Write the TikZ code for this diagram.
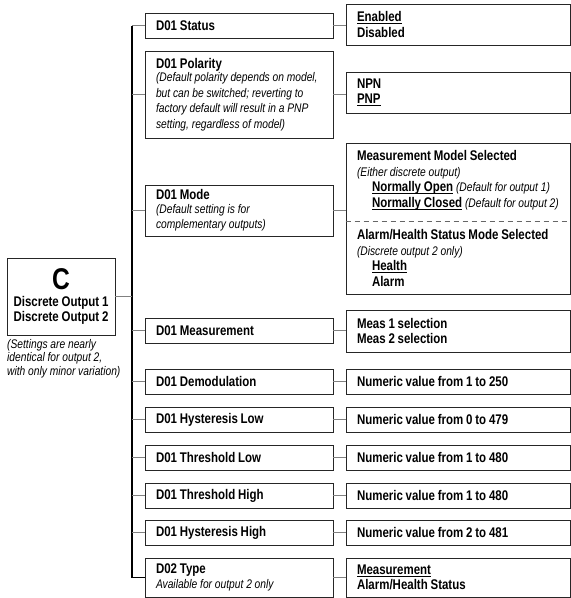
\documentclass[tikz,border=0pt]{standalone}
\usepackage{fontspec}
\setmainfont{Liberation Sans}[FakeStretch=0.82]
\usetikzlibrary{arrows.meta}

\newcommand{\hdfont}{\fontsize{14}{15.5}\selectfont\bfseries}
\newcommand{\ntfont}{\mdseries\itshape\fontsize{12.5}{15.5}\selectfont}
\newcommand{\nt}[1]{{\ntfont\spaceskip 2.8pt plus 1pt\relax #1}}
\newcommand{\ind}{\hspace*{15pt}}
\newcommand{\ulin}[1]{\leavevmode{\setbox0\hbox{#1}\rlap{\vrule height -1.6pt depth 2.6pt width \wd0}\box0}}

\begin{document}
\begin{tikzpicture}[x=1pt,y=-1pt,
  setting/.style={draw=black!85, line width=0.9pt, minimum width=188pt, text width=166pt,
    inner xsep=11pt, inner ysep=0pt, align=left, font=\hdfont,
    execute at begin node={\spaceskip 2.8pt plus 1pt\relax}},
  choice/.style={setting, minimum width=224pt, text width=202pt},
  link/.style={draw=black!50, line width=1.1pt},
  bus/.style={line width=2.8pt}]
\useasboundingbox (0,0) rectangle (571,598);

% output being set up
\node[draw=black!85, line width=0.9pt, minimum width=108pt, minimum height=77pt, inner sep=0pt,
  align=center, font=\hdfont, execute at begin node={\spaceskip 2.8pt plus 1pt\relax}] (out)
  at (61,296.5) {{\fontsize{30}{30}\selectfont C}\\[1pt] Discrete Output 1\\ Discrete Output 2};
\node[anchor=north west, inner sep=0pt, align=left, font=\ntfont\baselineskip 13.5pt,
  execute at begin node={\spaceskip 2.8pt plus 1pt\relax}]
  (outnote) at (7,339) {(Settings are nearly\\ identical for output 2,\\ with only minor variation)};

% settings
\node[setting, minimum height=25pt] (stat) at (239,25.5) {D01 Status};
\node[setting, minimum height=87pt] (pol) at (239,94.5) {D01 Polarity\\[-2pt]
  \nt{(Default polarity depends on model,}\\ \nt{but can be switched; reverting to}\\
  \nt{factory default will result in a PNP}\\ \nt{setting, regardless of model)}};
\node[setting, minimum height=51pt] (mode) at (239,210.5) {D01 Mode\\[-2pt]
  \nt{(Default setting is for}\\ \nt{complementary outputs)}};
\node[setting, minimum height=25pt] (meas) at (239,330.5) {D01 Measurement};
\node[setting, minimum height=25pt] (demod) at (239,381.5) {D01 Demodulation};
\node[setting, minimum height=25pt] (hyslo) at (239,419.5) {D01 Hysteresis Low};
\node[setting, minimum height=25pt] (thrlo) at (239,457.5) {D01 Threshold Low};
\node[setting, minimum height=25pt] (thrhi) at (239,495.5) {D01 Threshold High};
\node[setting, minimum height=25pt] (hyshi) at (239,532.5) {D01 Hysteresis High};
\node[setting, minimum height=39pt] (type) at (239,577.5) {D02 Type\\[-1pt]
  \nt{Available for output 2 only}};

% values
\node[choice, minimum height=41pt] (statv) at (458,24.5) {\ulin{Enabled}\\ Disabled};
\node[choice, minimum height=41pt] (polv) at (458,92.5) {NPN\\ \ulin{PNP}};
\node[choice, minimum height=151pt] (modev) at (458,218.5) {Measurement Model Selected\\
  \nt{(Either discrete output)}\\
  \ind\ulin{Normally Open} \nt{(Default for output 1)}\\
  \ind\ulin{Normally Closed} \nt{(Default for output 2)}\\[17pt]
  Alarm/Health Status Mode Selected\\ \nt{(Discrete output 2 only)}\\
  \ind\ulin{Health}\\ \ind Alarm};
\node[choice, minimum height=42pt] (measv) at (458,331) {Meas 1 selection\\ Meas 2 selection};
\node[choice, minimum height=25pt] (demodv) at (458,381.5) {Numeric value from 1 to 250};
\node[choice, minimum height=25pt] (hyslov) at (458,419.5) {Numeric value from 0 to 479};
\node[choice, minimum height=25pt] (thrlov) at (458,457.5) {Numeric value from 1 to 480};
\node[choice, minimum height=25pt] (thrhiv) at (458,495.5) {Numeric value from 1 to 480};
\node[choice, minimum height=25pt] (hyshiv) at (458,532.5) {Numeric value from 2 to 481};
\node[choice, minimum height=39pt] (typev) at (458,577.5) {\ulin{Measurement}\\ Alarm/Health Status};
\draw[dashed, draw=black!60, line width=1pt, dash pattern=on 5pt off 4pt]
  ([yshift=-2.5pt]modev.west) -- ([yshift=-2.5pt]modev.east);

% bus and links
\coordinate (bustop) at (132,25.5);
\coordinate (busbot) at (132,577.5);
\draw[bus] (bustop) -- (busbot);
\draw[link] (out.east) -- (out.east -| bustop);
\foreach \s in {stat,pol,mode,meas,demod,hyslo,thrlo,thrhi,hyshi}
  \draw[link] (\s.west -| bustop) -- (\s.west);
\draw[link, draw=black] (busbot) -- (type.west);
\foreach \s/\v in {stat/statv,pol/polv,mode/modev,meas/measv,demod/demodv,
    hyslo/hyslov,thrlo/thrlov,thrhi/thrhiv,hyshi/hyshiv,type/typev}
  \draw[link] (\s.east) -- (\s.east -| \v.west);
\end{tikzpicture}
\end{document}
